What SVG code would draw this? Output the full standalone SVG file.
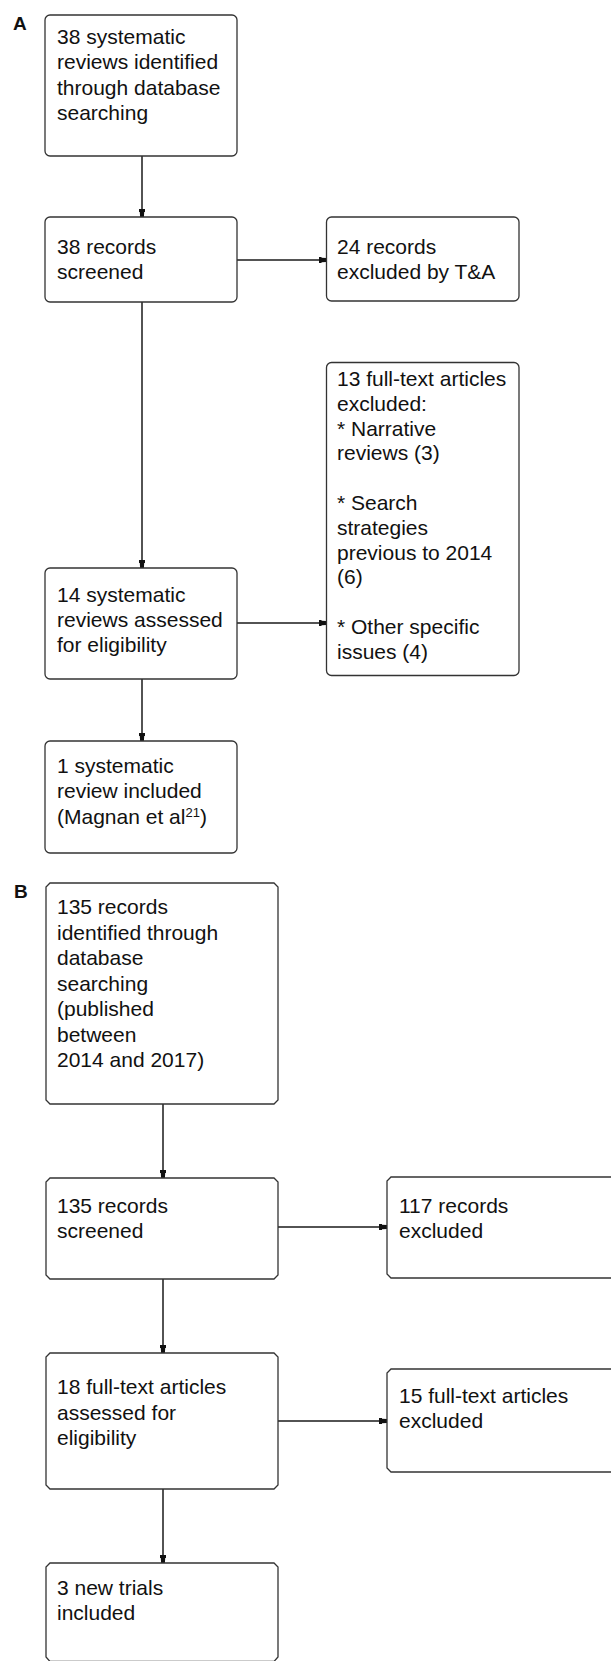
<svg xmlns="http://www.w3.org/2000/svg" width="611" height="1661" viewBox="0 0 611 1661">
<style>
.box{fill:#fff;stroke:#333;stroke-width:1.3}
.t{font-family:"Liberation Sans",Arial,sans-serif;font-size:21px;fill:#111}
.lbl{font-family:"Liberation Sans",Arial,sans-serif;font-size:19px;font-weight:bold;fill:#111}
.c{fill:none;stroke:#1a1a1a;stroke-width:1.5}
</style>
<defs>
<marker id="ah" markerUnits="userSpaceOnUse" markerWidth="10" markerHeight="10" viewBox="0 -5 10 10" refX="8" refY="0" orient="auto">
<path d="M0,-3 L3,-3 L3,-2.2 L8,-1.9 L8,1.9 L3,2.2 L3,3 L0,3 Z" fill="#111"/>
</marker>
</defs>
<rect width="611" height="1661" fill="#fff"/>
<text class="lbl" x="13" y="30">A</text>
<text class="lbl" x="14" y="898">B</text>
<g id="connectors">
<line class="c" x1="142" y1="156" x2="142" y2="217" marker-end="url(#ah)"/>
<line class="c" x1="237" y1="260" x2="326.5" y2="260" marker-end="url(#ah)"/>
<line class="c" x1="142" y1="302" x2="142" y2="568" marker-end="url(#ah)"/>
<line class="c" x1="237" y1="623" x2="326.5" y2="623" marker-end="url(#ah)"/>
<line class="c" x1="142" y1="679" x2="142" y2="741" marker-end="url(#ah)"/>
<line class="c" x1="163" y1="1104" x2="163" y2="1178" marker-end="url(#ah)"/>
<line class="c" x1="278" y1="1227" x2="387" y2="1227" marker-end="url(#ah)"/>
<line class="c" x1="163" y1="1279" x2="163" y2="1353" marker-end="url(#ah)"/>
<line class="c" x1="278" y1="1421" x2="387" y2="1421" marker-end="url(#ah)"/>
<line class="c" x1="163" y1="1489" x2="163" y2="1563" marker-end="url(#ah)"/>
</g>
<g id="a1">
<rect class="box" x="45" y="15" width="192" height="141" rx="5"/>
<text class="t"><tspan x="57" y="44">38 systematic</tspan><tspan x="57" y="69.3">reviews identified</tspan><tspan x="57" y="94.6">through database</tspan><tspan x="57" y="120">searching</tspan></text>
</g>
<g id="a2">
<rect class="box" x="45" y="217" width="192" height="85" rx="5"/>
<text class="t"><tspan x="57" y="254">38 records</tspan><tspan x="57" y="279">screened</tspan></text>
</g>
<g id="a3">
<rect class="box" x="326.5" y="217" width="192.5" height="84" rx="5"/>
<text class="t"><tspan x="337" y="254">24 records</tspan><tspan x="337" y="279">excluded by T&amp;A</tspan></text>
</g>
<g id="a4">
<rect class="box" x="326.5" y="362.5" width="192.5" height="313" rx="5"/>
<text class="t"><tspan x="337" y="386">13 full-text articles</tspan><tspan x="337" y="410.8">excluded:</tspan><tspan x="337" y="435.6">* Narrative</tspan><tspan x="337" y="460.4">reviews (3)</tspan><tspan x="337" y="510">* Search</tspan><tspan x="337" y="534.8">strategies</tspan><tspan x="337" y="559.6">previous to 2014</tspan><tspan x="337" y="584.4">(6)</tspan><tspan x="337" y="634">* Other specific</tspan><tspan x="337" y="658.8">issues (4)</tspan></text>
</g>
<g id="a5">
<rect class="box" x="45" y="568" width="192" height="111" rx="5"/>
<text class="t"><tspan x="57" y="602">14 systematic</tspan><tspan x="57" y="627">reviews assessed</tspan><tspan x="57" y="652">for eligibility</tspan></text>
</g>
<g id="a6">
<rect class="box" x="45" y="741" width="192" height="112" rx="5"/>
<text class="t"><tspan x="57" y="773">1 systematic</tspan><tspan x="57" y="798">review included</tspan><tspan x="57" y="824">(Magnan et al</tspan><tspan dy="-7" font-size="13">21</tspan><tspan dy="7">)</tspan></text>
</g>
<g id="b1">
<path class="box" d="M50,883 H274 L278,887 V1100 L274,1104 H50 L46,1100 V887 Z"/>
<text class="t"><tspan x="57" y="914">135 records</tspan><tspan x="57" y="939.5">identified through</tspan><tspan x="57" y="965">database</tspan><tspan x="57" y="990.5">searching</tspan><tspan x="57" y="1016">(published</tspan><tspan x="57" y="1041.5">between</tspan><tspan x="57" y="1067">2014 and 2017)</tspan></text>
</g>
<g id="b2">
<path class="box" d="M50,1178 H274 L278,1182 V1275 L274,1279 H50 L46,1275 V1182 Z"/>
<text class="t"><tspan x="57" y="1213">135 records</tspan><tspan x="57" y="1238">screened</tspan></text>
</g>
<g id="b2r">
<path class="box" d="M391,1177 H623 L627,1181 V1274 L623,1278 H391 L387,1274 V1181 Z"/>
<text class="t"><tspan x="399" y="1213">117 records</tspan><tspan x="399" y="1238">excluded</tspan></text>
</g>
<g id="b3">
<path class="box" d="M50,1353 H274 L278,1357 V1485 L274,1489 H50 L46,1485 V1357 Z"/>
<text class="t"><tspan x="57" y="1394">18 full-text articles</tspan><tspan x="57" y="1419.5">assessed for</tspan><tspan x="57" y="1445">eligibility</tspan></text>
</g>
<g id="b3r">
<path class="box" d="M391,1369 H623 L627,1373 V1468 L623,1472 H391 L387,1468 V1373 Z"/>
<text class="t"><tspan x="399" y="1403">15 full-text articles</tspan><tspan x="399" y="1428">excluded</tspan></text>
</g>
<g id="b4">
<path class="box" d="M50,1563 H274 L278,1567 V1657 L274,1661.5 H50 L46,1657 V1567 Z"/>
<text class="t"><tspan x="57" y="1595">3 new trials</tspan><tspan x="57" y="1620">included</tspan></text>
</g>
</svg>
